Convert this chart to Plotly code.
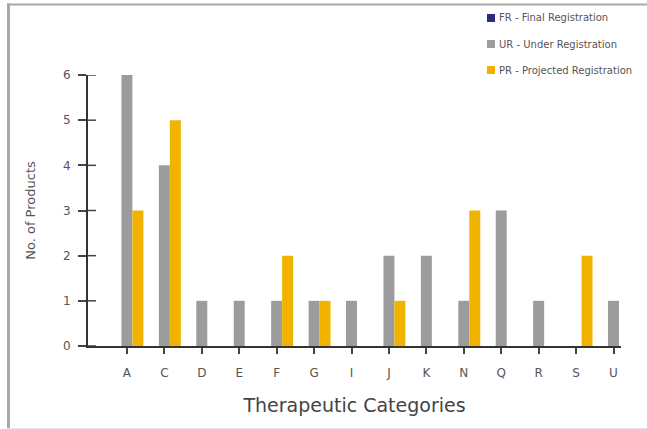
import plotly.graph_objects as go

categories = ["A", "C", "D", "E", "F", "G", "I", "J", "K", "N", "Q", "R", "S", "U"]
fr_values = [0, 0, 0, 0, 0, 0, 0, 0, 0, 0, 0, 0, 0, 0]
ur_values = [6, 4, 1, 1, 1, 1, 1, 2, 2, 1, 3, 1, 0, 1]
pr_values = [3, 5, 0, 0, 2, 1, 0, 1, 0, 3, 0, 0, 2, 0]
series_names = ["FR - Final Registration", "UR - Under Registration", "PR - Projected Registration"]
series_colors = ["#2B2A80", "#9C9C9C", "#F0B400"]
y_ticks = [0, 1, 2, 3, 4, 5, 6]

FONT = "DejaVu Sans"
W, H = 647, 429
# plot area in screen pixels (reference): x 88..621, y 75..346
L, R, T, B = 88, 647 - 621, 75, 429 - 346
pw, ph = W - L - R, H - T - B

def px_x(p):
    return (p - L) / pw

def px_y(p):
    return (H - B - p) / ph

fig = go.Figure()
for name, vals, col in zip(series_names, [fr_values, ur_values, pr_values], series_colors):
    fig.add_trace(go.Bar(x=categories, y=vals, name=name, marker_color=col,
                         marker_line_width=0, showlegend=False))

shapes = [
    dict(type="rect", xref="paper", yref="paper", x0=px_x(7), x1=px_x(10), y0=px_y(429), y1=px_y(3.5),
         fillcolor="#A8A8A8", line=dict(width=0), layer="above"),
    dict(type="rect", xref="paper", yref="paper", x0=px_x(7), x1=px_x(647), y0=px_y(5.5), y1=px_y(3.5),
         fillcolor="#A8A8A8", line=dict(width=0), layer="above"),
    dict(type="rect", xref="paper", yref="paper", x0=px_x(7), x1=px_x(647), y0=px_y(429), y1=px_y(428),
         fillcolor="#E4E4E4", line=dict(width=0), layer="above"),
]
# inner half of the crossing y tick marks
for tv in y_ticks:
    shapes.append(dict(type="line", xref="paper", yref="y", xsizemode="pixel", xanchor=0,
                       x0=0, x1=8, y0=tv, y1=tv, line=dict(color="#444444", width=1.5),
                       layer="above"))

annotations = []
leg_y = [18, 44, 70]
for name, col, ly in zip(series_names, series_colors, leg_y):
    shapes.append(dict(type="rect", xref="paper", yref="paper",
                       x0=px_x(487), x1=px_x(495), y0=px_y(ly - 4), y1=px_y(ly + 4),
                       fillcolor=col, line=dict(width=0)))
    annotations.append(dict(text=name, xref="paper", yref="paper", x=px_x(497), y=px_y(ly),
                            xanchor="left", yanchor="middle", showarrow=False,
                            font=dict(family=FONT, size=10, color="#555555")))

fig.update_layout(
    width=W, height=H,
    margin=dict(l=L, r=R, t=T, b=B),
    paper_bgcolor="white", plot_bgcolor="white",
    barmode="group", bargap=0.12, bargroupgap=0,
    showlegend=False,
    font=dict(family=FONT, color="#555555"),
    xaxis=dict(range=[-1.04, 13.2], showline=True, linecolor="#333333", linewidth=2,
               ticks="outside", ticklen=6, tickcolor="#444444", tickwidth=1.5,
               ticklabelstandoff=9,
               showgrid=False, zeroline=False, tickfont=dict(size=12, color="#555555"),
               title=dict(text="Therapeutic Categories", font=dict(size=19, color="#444444"), standoff=19)),
    yaxis=dict(range=[0, 6], tickvals=y_ticks, showline=True, linecolor="#333333", linewidth=2,
               ticks="outside", ticklen=8, tickcolor="#444444", tickwidth=1.5,
               ticklabelstandoff=5,
               showgrid=False, zeroline=False, tickfont=dict(size=12, color="#555555"),
               title=dict(text="No. of Products", font=dict(size=13, color="#555555"), standoff=24)),
    shapes=shapes, annotations=annotations,
)

fig.write_html("out.html", config={"displayModeBar": False},
               post_script="document.body.style.margin='0';document.body.style.overflow='hidden';")
